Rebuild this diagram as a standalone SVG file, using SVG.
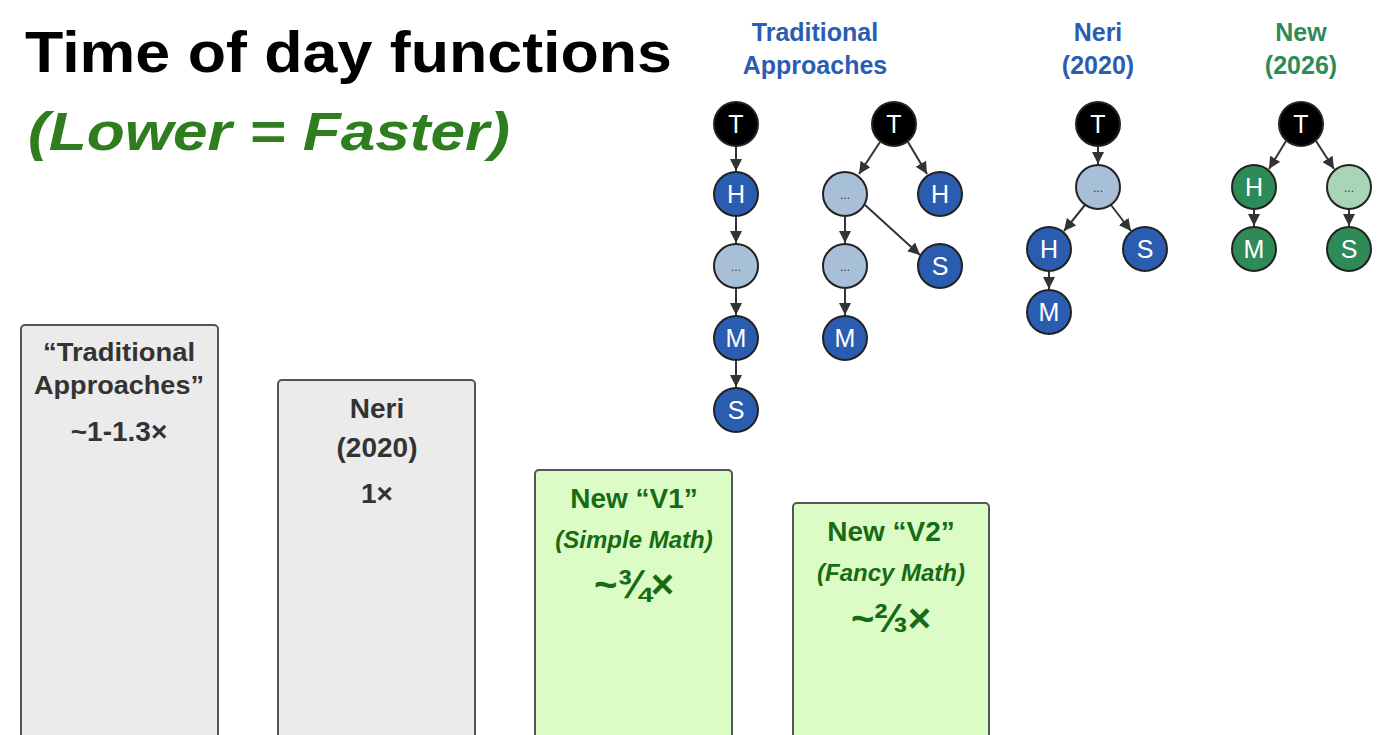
<svg xmlns="http://www.w3.org/2000/svg" width="1400" height="735" viewBox="0 0 1400 735">
<style>
text{font-family:"Liberation Sans",Arial,sans-serif;font-weight:bold;text-anchor:middle}
.bar{fill:#ebebeb;stroke:#555;stroke-width:2}
.gbar{fill:#dcfcc6;stroke:#555;stroke-width:2}
.bt{fill:#333;font-size:28px}
.gt{fill:#176b14;font-size:28px}
.gi{fill:#176b14;font-size:24px;font-style:italic}
.hd{font-size:25px}
circle{stroke:#222;stroke-width:2}
.k{fill:#000}.b{fill:#2a5db0}.l{fill:#a8bfd8}.g{fill:#2e8b57}.lg{fill:#a8d5b8}
.nl{fill:#fff;font-weight:normal;font-size:25px}
.dl{fill:#333;font-weight:normal;font-size:12px}
.e line{stroke:#333;stroke-width:2;marker-end:url(#a)}
</style>
<defs><marker id="a" viewBox="0 0 10 10" refX="10" refY="5" markerWidth="6" markerHeight="6" orient="auto"><path d="M0,0L10,5L0,10z" fill="#333"/></marker></defs>
<rect width="1400" height="735" fill="#fff"/>
<text x="25" y="72" textLength="647" lengthAdjust="spacingAndGlyphs" style="text-anchor:start;font-size:58px;fill:#000">Time of day functions</text>
<text x="28" y="150" textLength="482" lengthAdjust="spacingAndGlyphs" style="text-anchor:start;font-size:54px;font-style:italic;fill:#2e7d1e">(Lower = Faster)</text>
<g id="bar1"><rect class="bar" x="21" y="325" width="197" height="430" rx="4"/><text class="bt" x="119" y="361" style="font-size:25px" textLength="152" lengthAdjust="spacingAndGlyphs">“Traditional</text><text class="bt" x="119" y="394" style="font-size:25px" textLength="170" lengthAdjust="spacingAndGlyphs">Approaches”</text><text class="bt" x="119" y="441">~1-1.3×</text></g>
<g id="bar2"><rect class="bar" x="278" y="380" width="197" height="400" rx="4"/><text class="bt" x="377" y="418">Neri</text><text class="bt" x="377" y="457">(2020)</text><text class="bt" x="377" y="503">1×</text></g>
<g id="bar3"><rect class="gbar" x="535" y="470" width="197" height="300" rx="4"/><text class="gt" x="634" y="508">New “V1”</text><text class="gi" x="634" y="548">(Simple Math)</text><text class="gt" x="634" y="598" style="font-size:40px">~¾×</text></g>
<g id="bar4"><rect class="gbar" x="793" y="503" width="196" height="300" rx="4"/><text class="gt" x="891" y="541">New “V2”</text><text class="gi" x="891" y="581">(Fancy Math)</text><text class="gt" x="891" y="632" style="font-size:40px">~⅔×</text></g>
<g id="headers">
<text class="hd" x="815" y="41" fill="#2a5db0">Traditional</text><text class="hd" x="815" y="74" fill="#2a5db0">Approaches</text>
<text class="hd" x="1098" y="41" fill="#2a5db0">Neri</text><text class="hd" x="1098" y="74" fill="#2a5db0">(2020)</text>
<text class="hd" x="1301" y="41" fill="#2e8b57">New</text><text class="hd" x="1301" y="74" fill="#2e8b57">(2026)</text>
</g>
<g id="connectors" class="e">
<line x1="736" y1="147" x2="736" y2="171"/><line x1="736" y1="217" x2="736" y2="243"/><line x1="736" y1="289" x2="736" y2="315"/><line x1="736" y1="361" x2="736" y2="387"/>
<line x1="880" y1="142" x2="859" y2="174"/><line x1="908" y1="142" x2="927" y2="174"/><line x1="865" y1="205" x2="920" y2="255"/><line x1="845" y1="217" x2="845" y2="243"/><line x1="845" y1="289" x2="845" y2="315"/>
<line x1="1098" y1="147" x2="1098" y2="164"/><line x1="1085" y1="205" x2="1064" y2="231"/><line x1="1111" y1="205" x2="1131" y2="231"/><line x1="1049" y1="272" x2="1049" y2="289"/>
<line x1="1286" y1="141" x2="1269" y2="169"/><line x1="1316" y1="141" x2="1334" y2="169"/><line x1="1254" y1="210" x2="1254" y2="226"/><line x1="1349" y1="210" x2="1349" y2="226"/>
</g>
<g id="tree1">
<circle class="k" cx="736" cy="124" r="22"/><text class="nl" x="736" y="133">T</text>
<circle class="b" cx="736" cy="194" r="22"/><text class="nl" x="736" y="203">H</text>
<circle class="l" cx="736" cy="266" r="22"/><text class="dl" x="736" y="271">...</text>
<circle class="b" cx="736" cy="338" r="22"/><text class="nl" x="736" y="347">M</text>
<circle class="b" cx="736" cy="410" r="22"/><text class="nl" x="736" y="419">S</text>
</g>
<g id="tree2">
<circle class="k" cx="894" cy="124" r="22"/><text class="nl" x="894" y="133">T</text>
<circle class="l" cx="845" cy="194" r="22"/><text class="dl" x="845" y="199">...</text>
<circle class="b" cx="940" cy="194" r="22"/><text class="nl" x="940" y="203">H</text>
<circle class="l" cx="845" cy="266" r="22"/><text class="dl" x="845" y="271">...</text>
<circle class="b" cx="940" cy="266" r="22"/><text class="nl" x="940" y="275">S</text>
<circle class="b" cx="845" cy="338" r="22"/><text class="nl" x="845" y="347">M</text>
</g>
<g id="tree3">
<circle class="k" cx="1098" cy="124" r="22"/><text class="nl" x="1098" y="133">T</text>
<circle class="l" cx="1098" cy="187" r="22"/><text class="dl" x="1098" y="192">...</text>
<circle class="b" cx="1049" cy="249" r="22"/><text class="nl" x="1049" y="258">H</text>
<circle class="b" cx="1145" cy="249" r="22"/><text class="nl" x="1145" y="258">S</text>
<circle class="b" cx="1049" cy="312" r="22"/><text class="nl" x="1049" y="321">M</text>
</g>
<g id="tree4">
<circle class="k" cx="1301" cy="124" r="22"/><text class="nl" x="1301" y="133">T</text>
<circle class="g" cx="1254" cy="187" r="22"/><text class="nl" x="1254" y="196">H</text>
<circle class="lg" cx="1349" cy="187" r="22"/><text class="dl" x="1349" y="192">...</text>
<circle class="g" cx="1254" cy="249" r="22"/><text class="nl" x="1254" y="258">M</text>
<circle class="g" cx="1349" cy="249" r="22"/><text class="nl" x="1349" y="258">S</text>
</g>
</svg>
